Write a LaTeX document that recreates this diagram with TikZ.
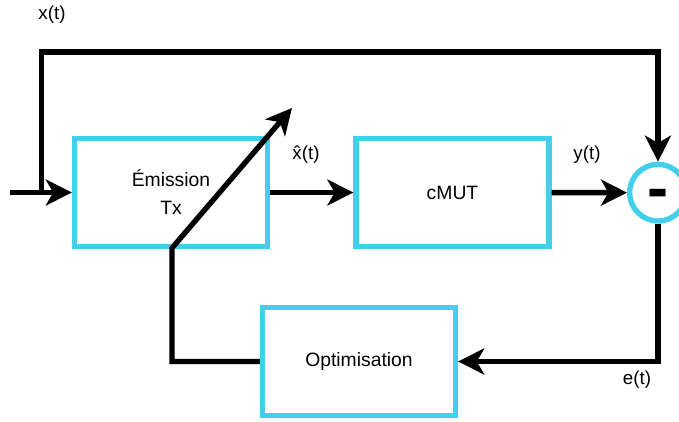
\documentclass[tikz,border=0pt]{standalone}
\usepackage{fontspec}
\setmainfont{Liberation Sans}
\usetikzlibrary{arrows.meta,positioning}
\definecolor{txcyan}{RGB}{65,207,235}
\tikzset{
  blkbox/.style={draw=txcyan, line width=0.16cm, minimum width=5.79cm,
    minimum height=3.24cm, align=center, inner sep=0pt,
    font=\fontsize{16.5}{24}\selectfont},
  sumnode/.style={draw=txcyan, circle, line width=0.16cm, minimum size=1.7cm,
    inner sep=0pt, text height=28pt, text depth=0pt,
    font=\fontsize{54}{54}\selectfont\bfseries},
  sigarrow/.style={-{Stealth[length=0.78cm, width=0.78cm, inset=0.22cm]},
    line width=0.16cm},
  siglabel/.style={inner sep=0pt, font=\fontsize{16}{19}\selectfont}
}

\begin{document}
\begin{tikzpicture}
  \useasboundingbox (0,0) rectangle (20.37cm,-12.63cm);
  \node[blkbox] (emis) at (5.13cm,-5.775cm) {Émission\\Tx};
  \node[blkbox] (cmut) at (13.575cm,-5.775cm) {cMUT};
  \node[blkbox] (opt) at (10.77cm,-10.845cm) {Optimisation};
  \node[sumnode] (sum) at (19.74cm,-5.78cm) {-};
  \node[siglabel] (lx) at (1.56cm,-0.45cm) {x(t)};
  \node[siglabel] (lxh) at (9.18cm,-4.65cm) {\^{x}(t)};
  \node[siglabel] (ly) at (17.61cm,-4.65cm) {y(t)};
  \node[siglabel] (le) at (19.11cm,-11.4cm) {e(t)};
  \coordinate (in) at (0.3cm,-5.775cm);
  \coordinate (split) at (1.245cm,-5.775cm);
  \coordinate (top) at (10cm,-1.56cm);
  \coordinate (knee) at (5.16cm,-7.44cm);
  \coordinate (tune) at (8.76cm,-3.24cm);
  \draw[sigarrow] (in) -- (emis);
  \draw[sigarrow] (split) |- (top) -| (sum);
  \draw[sigarrow] (emis) -- (cmut);
  \draw[sigarrow] (cmut) -- (sum);
  \draw[sigarrow] (sum) |- (opt);
  \draw[sigarrow] (opt) -| (knee) -- (tune);
\end{tikzpicture}
\end{document}
